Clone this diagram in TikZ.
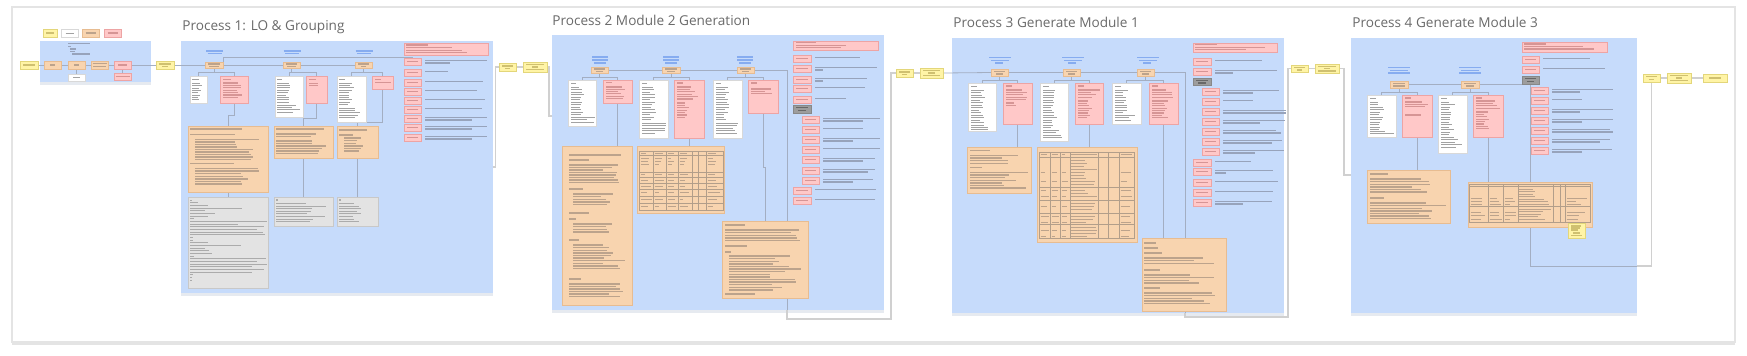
\documentclass[tikz,border=0pt]{standalone}
\usepackage{fontspec}
\newfontfamily\titlefont{Open Sans}
\definecolor{panelC}{HTML}{C6DBFB}
\definecolor{panelSh}{HTML}{E6EAF0}
\definecolor{pinkF}{HTML}{FFC8C8}
\definecolor{pinkD}{HTML}{EDA4A4}
\definecolor{orF}{HTML}{F8D4AF}
\definecolor{orD}{HTML}{E7BC91}
\definecolor{yelF}{HTML}{FFF4A6}
\definecolor{yelD}{HTML}{E3D67A}
\definecolor{greyF}{HTML}{E3E3E3}
\definecolor{greyD}{HTML}{C8C8C8}
\definecolor{dgF}{HTML}{9D9D9D}
\definecolor{dgD}{HTML}{888888}
\definecolor{whD}{HTML}{D8D8D8}
\definecolor{connC}{HTML}{A3AEC2}
\definecolor{oconnC}{HTML}{D0D0D0}
\definecolor{wlC}{HTML}{A2A2A2}
\definecolor{olC}{HTML}{BCA38C}
\definecolor{plC}{HTML}{D69595}
\definecolor{blC}{HTML}{97A3BB}
\definecolor{llC}{HTML}{86ACF0}
\definecolor{glC}{HTML}{ABABAB}
\definecolor{tgC}{HTML}{B29E8A}
\definecolor{titleC}{HTML}{6A6A6A}
\definecolor{frameC}{HTML}{E4E4E4}
\definecolor{ylC}{HTML}{CFC070}
\definecolor{dlC}{HTML}{686868}
\pgfdeclarelayer{bg}
\pgfdeclarelayer{mid}
\pgfsetlayers{bg,mid,main}
\tikzset{
  box/.style={inner sep=0pt,outer sep=0pt,line width=0.4pt},
  framebox/.style={box,fill=white,draw=frameC,line width=0.6pt},
  pbox/.style={box,fill=pinkF,draw=pinkD},
  obox/.style={box,fill=orF,draw=orD},
  ybox/.style={box,fill=yelF,draw=yelD},
  wbox/.style={box,fill=white,draw=whD},
  gbox/.style={box,fill=greyF,draw=greyD},
  dbox/.style={box,fill=dgF,draw=dgD},
  panel/.style={box,fill=panelC,draw=none},
  conn/.style={draw=connC,line width=0.4pt},
  oconn/.style={draw=oconnC,line width=0.55pt},
  wl/.style={draw=wlC,line width=0.5pt},
  ol/.style={draw=olC,line width=0.7pt},
  pl/.style={draw=plC,line width=0.55pt},
  bl/.style={draw=blC,line width=0.6pt},
  ll/.style={draw=llC,line width=0.55pt},
  gl/.style={draw=glC,line width=0.55pt},
  tg/.style={draw=tgC,line width=0.4pt},
  yl/.style={draw=ylC,line width=0.55pt},
  dl/.style={draw=dlC,line width=0.55pt},
  ptitle/.style={inner sep=0pt,anchor=base west,text=titleC,font=\titlefont\fontsize{6.8}{8}\selectfont},
}
\newcommand\boxat[6]{\node[#1,anchor=north west,minimum width={(#5-(#3))*0.5pt},minimum height={(#6-(#4))*0.5pt}] (#2) at (#3,#4) {};}
\newcommand\gblk[6][wl]{\foreach \ii in {1,...,#5}{\pgfmathsetmacro\gbl{#4*(0.55+0.45*rnd)}\draw[#1] (#2,{#3+(\ii-1)*#6}) -- ++(\gbl,0);}}
\newcommand\gline[4][wl]{\draw[#1] (#2,#3) -- ++(#4,0);}
\newcommand\rpk[6]{\boxat{pbox}{#1}{#2}{#3}{#2+#4}{#3+7}%
  \draw[pl] ({#2+3},{#3+3.5}) -- ++({#4-6},0);%
  \draw[bl] ({#2+#4+4},{#3+2.3}) -- ++(#5,0);%
  \ifdim#6pt>0pt\relax\draw[bl] ({#2+#4+4},{#3+4.9}) -- ++(#6,0);\fi}
\begin{document}
\begin{tikzpicture}[x=0.5pt,y=-0.5pt]
\pgfmathsetseed{11}
\useasboundingbox (0,0) rectangle (1747,355);
\begin{pgfonlayer}{bg}
\fill[white] (0,0) rectangle (1747,355);
\fill[frameC] (12,340) rectangle (1735,344.5);
\boxat{framebox}{frame}{12}{7}{1735}{342}
\foreach \a/\b/\c/\d in {40/41/151/82, 180.5/41/492.5/293, 551.5/35/883.5/310, 951.5/38/1283.5/313, 1351/38/1637/313}{
  \fill[panelSh] (\a,\d) rectangle (\c,\d+3);}
\boxat{panel}{P0}{40}{41}{151}{82}
\boxat{panel}{P1}{180.5}{41}{492.5}{293}
\boxat{panel}{P2}{551.5}{35}{883.5}{310}
\boxat{panel}{P3}{951.5}{38}{1283.5}{313}
\boxat{panel}{P4}{1351}{38}{1637}{313}
\end{pgfonlayer}
% titles
\node[ptitle] (T1) at (182,30.5) {Process 1: LO \& Grouping};
\node[ptitle] (T2) at (552,25.5) {Process 2 Module 2 Generation};
\node[ptitle] (T3) at (953,27.3) {Process 3 Generate Module 1};
\node[ptitle] (T4) at (1352,27.3) {Process 4 Generate Module 3};
% ---------------- P0 ----------------
\boxat{ybox}{L1}{43}{29}{57}{37} \gline[yl]{46}{33}{8}
\boxat{wbox}{L2}{61}{29}{78}{37} \gline{65.5}{33}{8}
\boxat{obox}{L3}{82}{29}{99}{37} \gline[ol]{85.5}{33}{10}
\boxat{pbox}{L4}{104}{29}{121}{37} \gline[pl]{107.5}{33}{10}
\gline[bl]{68}{43.5}{22} \gline[bl]{68}{46.5}{3} \gline[bl]{70}{49}{6} \gline[bl]{70}{51.5}{5} \gline[bl]{72}{54}{18}
\boxat{ybox}{s0}{20}{61}{38}{69} \gline[yl]{23}{65}{12}
\boxat{obox}{a1}{44}{61}{61}{69} \gline[ol]{50}{65}{5}
\boxat{obox}{a2}{68}{61}{85}{69} \gline[ol]{74}{65}{5}
\boxat{obox}{a3}{91}{61}{108}{69} \gline[ol]{92.5}{63.3}{14} \gline[ol]{93}{66.5}{13}
\boxat{pbox}{a4}{114}{61}{131}{69} \gline[pl]{118}{65}{9}
\boxat{pbox}{a5}{114}{73}{131}{80} \gline[pl]{115.5}{76.5}{14}
\boxat{wbox}{a6}{68}{74}{85}{81} \gline{73}{77.5}{7}
\boxat{ybox}{e0}{156}{61}{174}{69} \gline[yl]{159}{64}{12} \gline[yl]{162}{66.5}{6}
% ---------------- P1 ----------------
\foreach \xx in {206,283.5,355.5}{\draw[ll] (\xx,51) -- ++(17,0); \draw[ll] (\xx+1.5,53.3) -- ++(14,0);}
\boxat{obox}{p1n1}{205}{62}{223}{68} \gline[ol]{208}{64}{12} \gline[ol]{209}{66.3}{10}
\boxat{obox}{p1n2}{283}{62}{300}{68} \gline[ol]{286}{64}{11} \gline[ol]{287}{66.3}{9}
\boxat{obox}{p1n3}{355}{62}{372}{68} \gline[ol]{358}{64}{11} \gline[ol]{361}{66.3}{5}
\boxat{wbox}{p1w1}{190}{76}{207}{103}
\gline{192}{79}{7} \gblk{192}{83.5}{10}{8}{2.3}
\boxat{pbox}{p1k1}{220}{76}{248}{103}
\gline[pl]{223}{79.5}{8} \gblk[pl]{223}{83}{22}{7}{2.4}
\boxat{wbox}{p1w2}{275}{76}{303}{117}
\gline{277}{79}{5} \gblk{277}{83}{14}{9}{2.4} \gblk{277}{105}{24}{4}{2.4}
\boxat{pbox}{p1k2}{306}{76}{327}{103}
\gline[pl]{309}{79.5}{7} \gblk[pl]{309}{83.5}{16}{2}{2.4}
\boxat{wbox}{p1w3}{337}{76}{366}{122}
\gline{339}{79}{6} \gblk{339}{83}{16}{10}{2.4} \gblk{339}{108}{25}{5}{2.4}
\boxat{pbox}{p1k3}{372}{76}{393}{89}
\gline[pl]{375}{79.5}{6} \gline[pl]{375}{82.5}{16}
\boxat{pbox}{p1r0}{404}{43}{488}{55}
\gline[pl]{406}{45}{22} \gblk[pl]{406}{47.5}{80}{3}{2.6}
\foreach \yy/\la/\lb [count=\c] in {58/62/25,69/23/0,79/58/0,88/52/0,97/60/0,106/57/0,115/62/47,124/62/47,134/62/47}{\rpk{p1r\c}{404}{\yy}{17}{\la}{\lb}}
\boxat{obox}{p1o1}{188}{126}{268}{192}
\gline[ol]{190}{129}{52} \gline[ol]{190}{134.5}{45}
\gblk[ol]{195}{139.5}{68}{9}{2.5}
\gline[ol]{190}{163.5}{44}
\gblk[ol]{195}{168.5}{70}{7}{2.6}
\boxat{obox}{p1o2}{274}{126}{333}{158}
\gline[ol]{276}{129}{48} \gblk[ol]{276}{134}{50}{2}{2.7} \gblk[ol]{276}{141}{55}{6}{2.5}
\boxat{obox}{p1o3}{337}{126}{378}{158}
\gline[ol]{339}{130}{28} \gline[ol]{339}{135}{14} \gblk[ol]{344}{138}{20}{6}{2.6}
\boxat{gbox}{p1g1}{188}{197}{268}{288}
\foreach \ll [count=\c] in {1.5,8,18,52,15,25,18,4,77,48,74,67,73,75,3,3,18,51,15,19,22,4,76,67,77,62,74,62,3,2,2}{\draw[gl] (190,{197.5+\c*2.67}) -- ++(\ll,0);}
\boxat{gbox}{p1g2}{274}{197}{333}{226} \gline[gl]{276}{200}{1.5} \gblk[gl]{276}{203.5}{54}{8}{2.6}
\boxat{gbox}{p1g3}{337}{197}{378}{226} \gline[gl]{339}{200}{1.5} \gblk[gl]{339}{203.5}{24}{8}{2.6}
% between P1 and P2
\boxat{ybox}{m1}{499}{63}{516}{71} \gline[yl]{502}{66}{11} \gline[yl]{505}{68.5}{5}
\boxat{ybox}{m2}{523}{62}{547}{72} \gline[yl]{526}{64.5}{18} \gline[yl]{532}{67}{6} \gline[yl]{526}{69.5}{18}
% ---------------- P2 ----------------
\foreach \xx in {592,663,737}{\draw[ll] (\xx,57) -- ++(16,0); \draw[ll] (\xx,60) -- ++(16,0); \draw[ll] (\xx+2,63) -- ++(12,0);}
\boxat{obox}{p2n1}{591}{67}{608}{73} \gline[ol]{594}{69}{11} \gline[ol]{596}{71.3}{7}
\boxat{obox}{p2n2}{662}{67}{680}{73} \gline[ol]{665}{69}{12} \gline[ol]{667}{71.3}{8}
\boxat{obox}{p2n3}{737}{67}{754}{73} \gline[ol]{740}{69}{11} \gline[ol]{742}{71.3}{7}
\boxat{wbox}{p2w1}{568}{80}{596}{126}
\gline{571}{83}{5} \gblk{571}{87}{14}{12}{2.5} \gblk{571}{117}{24}{3}{2.5}
\boxat{pbox}{p2k1}{603}{80}{632}{103}
\gline[pl]{606}{82.5}{6} \gblk[pl]{606}{87}{22}{6}{2.3}
\boxat{wbox}{p2w2}{639}{80}{668}{138}
\gline{642}{83}{5} \gblk{642}{87}{14}{14}{2.5} \gblk{642}{123}{24}{5}{2.5}
\boxat{pbox}{p2k2}{674}{80}{704}{138}
\gline[pl]{677}{83}{6} \gblk[pl]{677}{87}{22}{6}{2.4} \gblk[pl]{677}{103}{13}{7}{2.4}
\boxat{wbox}{p2w3}{713}{80}{742}{138}
\gline{716}{83}{5} \gblk{716}{87}{14}{14}{2.5} \gblk{716}{123}{24}{5}{2.5}
\boxat{pbox}{p2k3}{748}{80}{778}{113}
\gline[pl]{751}{83}{6} \gblk[pl]{751}{89}{24}{3}{2.4}
\boxat{pbox}{p2r0}{793}{41}{878}{50}
\gline[pl]{796}{42.8}{20} \gblk[pl]{796}{45.3}{80}{2}{2.5}
\foreach \yy/\la/\lb [count=\c] in {55/45/0,65/62/8,76/52/8,85/50/0,96/31/0}{\rpk{p2q\c}{793}{\yy}{18}{\la}{\lb}}
\boxat{dbox}{p2dg}{793}{105}{811}{113} \gline[dl]{796}{107.5}{12} \gline[dl]{798}{110.5}{8}
\foreach \yy/\la/\lb [count=\c] in {116/57/40,126/40/0,136/57/30,146/57/0,156/52/40,167/52/45,177/50/30}{\rpk{p2s\c}{802}{\yy}{17}{\la}{\lb}}
\foreach \yy/\la/\lb [count=\c] in {187/61/0,197/60/0}{\rpk{p2u\c}{793}{\yy}{18}{\la}{\lb}}
\boxat{obox}{p2o1}{562}{146}{632}{305}
\gline[ol]{569}{155}{52} \gline[ol]{569}{160}{20} \gblk[ol]{569}{165}{55}{8}{2.5}
\gline[ol]{569}{189}{14} \gblk[ol]{573}{194}{40}{5}{2.6}
\gline[ol]{569}{213}{20} \gline[ol]{569}{219}{7} \gblk[ol]{573}{224}{52}{4}{2.6}
\gline[ol]{569}{240}{10} \gblk[ol]{573}{245}{52}{10}{2.6}
\gline[ol]{569}{279}{12} \gblk[ol]{569}{284}{55}{6}{2.5}
\boxat{obox}{p2tab}{637}{146}{724}{213}
\draw[tg] (639,151) rectangle (723,210);
\foreach \xx in {653,666,678,692,698,706}{\draw[tg] (\xx,151) -- (\xx,210);}
\foreach \yy in {155,172,177,183,189,196,203}{\draw[tg] (639,\yy) -- (723,\yy);}
\foreach \xa/\xw in {640/11,654/10,667/9,679/11,707/14}{\foreach \yy in {153,158,161,164,174.5,180,186,192,199,206}{\pgfmathsetmacro\gbl{\xw*(0.3+0.7*rnd)}\draw[ol,line width=0.5pt] (\xa+0.8,\yy) -- ++(\gbl,0);}}
\boxat{obox}{p2o3}{722}{221}{808}{298}
\gline[ol]{725}{225}{20} \gblk[ol]{725}{230}{78}{5}{2.6}
\gline[ol]{725}{246}{22} \gline[ol]{725}{252}{6} \gblk[ol]{729}{256}{74}{14}{2.6} \gline[ol]{725}{294}{30}
% between P2 and P3
\boxat{ybox}{m3}{896}{69}{913}{77} \gline[yl]{899}{72}{11} \gline[yl]{902}{74.5}{5}
\boxat{ybox}{m4}{920}{68}{943}{78} \gline[yl]{923}{70.5}{17} \gline[yl]{928}{73}{7} \gline[yl]{923}{75.5}{17}
% ---------------- P3 ----------------
\foreach \xx in {989,1062,1137}{\draw[ll] (\xx,57.5) -- ++(22,0); \draw[ll] (\xx+2,60.3) -- ++(18,0); \draw[ll] (\xx+6,63) -- ++(8,0);}
\boxat{obox}{p3n1}{991}{69}{1008}{76} \gline[ol]{994}{71.3}{11} \gline[ol]{996}{73.8}{7}
\boxat{obox}{p3n2}{1063}{69}{1080}{76} \gline[ol]{1066}{71.3}{11} \gline[ol]{1068}{73.8}{7}
\boxat{obox}{p3n3}{1137}{69}{1154}{76} \gline[ol]{1140}{71.3}{11} \gline[ol]{1142}{73.8}{7}
\boxat{wbox}{p3w1}{968}{83}{996}{131}
\gline{971}{86}{6} \gblk{971}{90}{14}{14}{2.5} \gblk{971}{125}{24}{3}{2}
\boxat{pbox}{p3k1}{1003}{83}{1032}{124}
\gline[pl]{1006}{86}{6} \gblk[pl]{1006}{90}{24}{5}{2.4} \gblk[pl]{1006}{103}{12}{2}{2.5}
\boxat{wbox}{p3w2}{1040}{83}{1068}{141}
\gline{1043}{86}{6} \gblk{1043}{90}{14}{16}{2.5} \gblk{1043}{130}{24}{4}{2.5}
\boxat{pbox}{p3k2}{1075}{83}{1103}{124}
\gline[pl]{1078}{86}{6} \gblk[pl]{1078}{90}{24}{4}{2.4} \gblk[pl]{1078}{101}{14}{8}{2.4}
\boxat{wbox}{p3w3}{1112}{83}{1141}{124}
\gline{1115}{86}{6} \gblk{1115}{90}{14}{10}{2.5} \gblk{1115}{115}{24}{3}{2.5}
\boxat{pbox}{p3k3}{1149}{83}{1178}{124}
\gline[pl]{1152}{86}{6} \gblk[pl]{1152}{90}{24}{4}{2.4} \gblk[pl]{1152}{101}{16}{8}{2.4}
\boxat{pbox}{p3r0}{1193}{43}{1277}{52}
\gline[pl]{1195}{44.8}{22} \gblk[pl]{1195}{47.3}{78}{2}{2.5}
\foreach \yy/\la/\lb [count=\c] in {58/47/0,68/62/18}{\rpk{p3q\c}{1193}{\yy}{18}{\la}{\lb}}
\boxat{dbox}{p3dg}{1193}{78}{1211}{85} \gline[dl]{1196}{80.3}{12} \gline[dl]{1198}{83}{8}
\foreach \yy/\la/\lb [count=\c] in {88/56/30,98/30/0,108/63/63,118/62/37,128/53/58,138/59/49,148/61/32}{\rpk{p3s\c}{1202}{\yy}{17}{\la}{\lb}}
\foreach \yy/\la/\lb [count=\c] in {159/36/0,168/58/11,179/63/0,189/58/0,199/57/28}{\rpk{p3u\c}{1193}{\yy}{18}{\la}{\lb}}
\boxat{obox}{p3o1}{967}{147}{1031}{193}
\gline[ol]{970}{150.5}{20} \gblk[ol]{970}{155.5}{58}{4}{2.6} \gline[ol]{970}{167.5}{12} \gblk[ol]{970}{172.5}{58}{7}{2.6}
\boxat{obox}{p3tab}{1037}{147}{1137}{242}
\draw[tg] (1039,152) rectangle (1134,238);
\foreach \xx in {1050,1060,1070,1098,1108,1119}{\draw[tg] (\xx,152) -- (\xx,238);}
\foreach \yy in {157,187,200,213,224}{\draw[tg] (1039,\yy) -- (1134,\yy);}
\foreach \yy in {154.5,160,163,166,169,172,175,178,181,184,190,193,196,203,206,209,216,219,222,227,230,233,236}{\pgfmathsetmacro\gbl{26*(0.5+0.5*rnd)}\draw[ol,line width=0.5pt] (1071,\yy) -- ++(\gbl,0);}
\foreach \xa/\xw in {1040/9,1051/8,1061/8,1120/13}{\foreach \yy in {154.5,172,181,190,196,206,216,222,230,236}{\pgfmathsetmacro\gbl{\xw*(0.4+0.6*rnd)}\draw[ol,line width=0.5pt] (\xa+0.5,\yy) -- ++(\gbl,0);}}
\boxat{obox}{p3o3}{1142}{238}{1226}{311}
\gline[ol]{1144}{243}{12} \gline[ol]{1144}{248}{14} \gline[ol]{1144}{253}{18} \gblk[ol]{1144}{258}{78}{3}{2.6}
\gline[ol]{1144}{270}{16} \gblk[ol]{1144}{275}{80}{4}{2.6} \gline[ol]{1144}{288}{16} \gblk[ol]{1144}{293}{80}{5}{2.6}
% between P3 and P4
\boxat{ybox}{m5}{1291}{65}{1308}{72} \gline[yl]{1294}{67.7}{11} \gline[yl]{1297}{70}{5}
\boxat{ybox}{m6}{1315}{64}{1339}{73} \gline[yl]{1318}{66.3}{18} \gline[yl]{1324}{68.7}{6} \gline[yl]{1318}{71}{18}
% ---------------- P4 ----------------
\foreach \xx in {1388,1459}{\draw[ll] (\xx,67.5) -- ++(22,0); \draw[ll] (\xx+2,70.3) -- ++(18,0); \draw[ll] (\xx,73) -- ++(22,0);}
\boxat{obox}{p4n1}{1390}{81}{1408}{88} \gline[ol]{1393}{83.3}{12} \gline[ol]{1393}{85.8}{12}
\boxat{obox}{p4n2}{1461}{81}{1479}{88} \gline[ol]{1464}{83.3}{12} \gline[ol]{1466}{85.8}{8}
\boxat{wbox}{p4w1}{1367}{95}{1396}{137}
\gline{1370}{98}{6} \gblk{1370}{102}{14}{12}{2.5} \gblk{1370}{131}{24}{2}{2.5}
\boxat{pbox}{p4k1}{1402}{95}{1432}{137}
\gline[pl]{1405}{98}{6} \gblk[pl]{1405}{102}{24}{3}{2.4} \gline[pl]{1405}{115}{16}
\boxat{wbox}{p4w2}{1438}{95}{1467}{153}
\gline{1441}{98}{6} \gblk{1441}{102}{14}{14}{2.5} \gblk{1441}{137}{24}{5}{2.5}
\boxat{pbox}{p4k2}{1473}{95}{1503}{137}
\gline[pl]{1476}{98}{6} \gblk[pl]{1476}{101}{24}{4}{2.4} \gblk[pl]{1476}{112}{14}{8}{2.4}
\boxat{pbox}{p4r0}{1522}{42}{1607}{52}
\gline[pl]{1524}{44}{22} \gblk[pl]{1524}{46.5}{78}{2}{2.5}
\foreach \yy/\la/\lb [count=\c] in {56/47/0,66/62/0}{\rpk{p4q\c}{1522}{\yy}{17}{\la}{\lb}}
\boxat{dbox}{p4dg}{1522}{76}{1539}{84} \gline[dl]{1525}{78.5}{11} \gline[dl]{1527}{81.5}{7}
\foreach \yy/\la/\lb [count=\c] in {87/61/28,97/30/0,107/61/28,117/61/30,127/58/61,137/58/48,147/60/30}{\rpk{p4s\c}{1531}{\yy}{17}{\la}{\lb}}
\boxat{obox}{p4o1}{1367}{170}{1450}{223}
\gline[ol]{1370}{174}{18} \gblk[ol]{1370}{179}{76}{6}{2.6} \gline[ol]{1370}{198}{14} \gblk[ol]{1370}{203}{76}{7}{2.6}
\boxat{obox}{p4tab}{1468}{182}{1592}{227}
\draw[tg] (1469,184) rectangle (1590,222);
\foreach \xx in {1488,1503,1518,1553,1560,1565}{\draw[tg] (\xx,184) -- (\xx,222);}
\foreach \yy in {186.5,206}{\draw[tg] (1469,\yy) -- (1590,\yy);}
\foreach \yy in {189,191.5,194,196.5,199,201.5,204,209,211.5,214,216.5,219}{\pgfmathsetmacro\gbl{33*(0.4+0.6*rnd)}\draw[ol,line width=0.5pt] (1519,\yy) -- ++(\gbl,0);}
\foreach \xa/\xw in {1470/17,1489/13,1504/13,1566/23}{\foreach \yy in {198,201,204,212,215,219}{\pgfmathsetmacro\gbl{\xw*(0.4+0.6*rnd)}\draw[ol,line width=0.5pt] (\xa+0.5,\yy) -- ++(\gbl,0);}}
\boxat{ybox}{p4st}{1568}{223}{1585}{238}
\gblk[yl]{1571}{226}{11}{3}{2} \gline[yl]{1573}{233}{7} \gline[yl]{1571}{235.5}{11}
% after P4
\boxat{ybox}{m7}{1643}{74}{1660}{82} \gline[yl]{1646}{76.7}{11} \gline[yl]{1649}{79.2}{5}
\boxat{ybox}{m8}{1667}{73}{1691}{83} \gline[yl]{1670}{75.5}{18} \gline[yl]{1676}{78}{6} \gline[yl]{1670}{80.5}{18}
\boxat{ybox}{m9}{1703}{74}{1727}{82} \gline[yl]{1709}{78}{12}
% ---------------- connectors ----------------
\coordinate (p1out) at (492.5,167);
\coordinate (p2in) at (551.5,116);
\coordinate (p4in) at (1351,175);
\begin{pgfonlayer}{mid}
\draw[conn] (s0.east) -- (a1.west);
\draw[conn] (a1.east) -- (a2.west);
\draw[conn] (a2.east) -- (a3.west);
\draw[conn] (a3.east) -- (a4.west);
\draw[conn] (a4.east) -- (e0.west);
\draw[conn] (a4.south) -- (a5.north);
\draw[conn] (a2.south) -- (a6.north);
\draw[conn] (e0.east) -- (p1n1.west);
\draw[conn] (p1n1.east) -- (p1n2.west);
\draw[conn] (p1n2.east) -- (p1n3.west);
\draw[conn] (p1n1.north east) -- ++(0,-5) -| (p1r1.north);
\foreach \i in {1,2,3}{
  \draw[conn] (p1n\i.south) -- ++(0,4) -| (p1w\i.north);
  \draw[conn] (p1n\i.south) -- ++(0,4) -| (p1k\i.north);
  \draw[conn] (p1o\i.south) -- (p1g\i.north);}
\draw[conn] (p1k1.south) -- ++(0,12) -| (p1o1.north);
\draw[conn] (p1k2.south) -- ++(0,15) -| (p1o2.north);
\draw[conn] (p1k3.south) -- ++(0,33) -| (p1o3.north);
\draw[oconn] (p1out) -- (495.5,167) |- (m1.west);
\draw[oconn] (m1.east) -- (m2.west);
\draw[oconn] (m2.east) -- ++(2,0) |- (p2in);
% P2
\draw[conn] (p2n1.east) -- (p2n2.west);
\draw[conn] (p2n2.east) -- (p2n3.west);
\foreach \i in {1,2,3}{
  \draw[conn] (p2n\i.south) -- ++(0,4) -| (p2w\i.north);
  \draw[conn] (p2n\i.south) -- ++(0,4) -| (p2k\i.north);}
\draw[conn] (p2k1.south) -- (p2k1.south |- p2o1.north);
\draw[conn] (p2k2.south) -- (p2k2.south |- p2tab.north);
\draw[conn] (p2k3.south) -- ++(0,54) -| (p2o3.north);
\draw[conn] (p2n3.east) -- (787,70) -- (787,310);
\draw[oconn] (787,310) -- (787,319) -- (891,319) |- (m3.west);
\draw[oconn] (m3.east) -- (m4.west);
\draw[conn] (m4.east) -- (p3n1.west);
% P3
\draw[conn] (p3n1.east) -- (p3n2.west);
\draw[conn] (p3n2.east) -- (p3n3.west);
\foreach \i in {1,2,3}{
  \draw[conn] (p3n\i.south) -- ++(0,4) -| (p3w\i.north);
  \draw[conn] (p3n\i.south) -- ++(0,4) -| (p3k\i.north);}
\draw[conn] (p3k1.south) -- (p3k1.south |- p3o1.north);
\draw[conn] (p3k2.south) -- (p3k2.south |- p3tab.north);
\draw[conn] (p3k3.south) -- (p3k3.south |- p3o3.north);
\draw[conn] (p3n3.east) -- (1185,72.5) -- (1185,313);
\draw[oconn] (1185,313) -- (1185,317) -- (1288,317) |- (m5.west);
\draw[oconn] (m5.east) -- (m6.west);
\draw[oconn] (m6.east) -- ++(5,0) |- (p4in);
% P4
\draw[conn] (p4n1.east) -- (p4n2.west);
\foreach \i in {1,2}{
  \draw[conn] (p4n\i.south) -- ++(0,4) -| (p4w\i.north);
  \draw[conn] (p4n\i.south) -- ++(0,4) -| (p4k\i.north);}
\draw[conn] (p4k1.south) -- (p4k1.south |- p4o1.north);
\draw[conn] (p4k2.south) -- (p4k2.south |- p4tab.north);
\draw[conn] (p4n2.east) -- (1530,84.5) -- (1530,266) -- (1637,266);
\draw[oconn] (1637,266) -| (m7.south);
\draw[oconn] (m7.east) -- (m8.west);
\draw[oconn] (m8.east) -- (m9.west);
\end{pgfonlayer}
\end{tikzpicture}
\end{document}
